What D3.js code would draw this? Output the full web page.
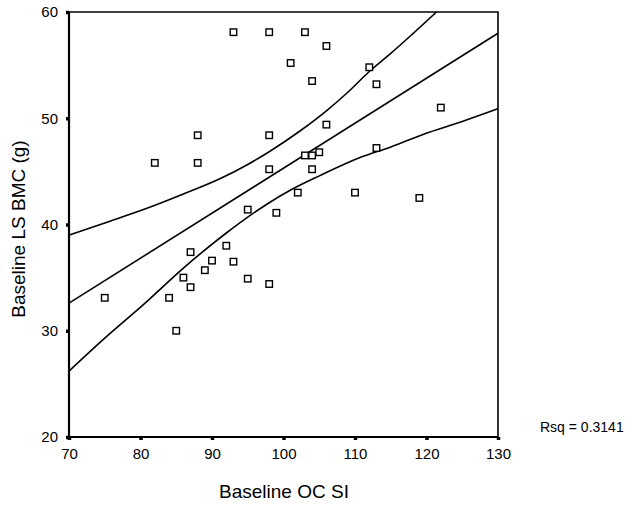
<!DOCTYPE html>
<html>
<head>
<meta charset="utf-8">
<script src="https://cdn.jsdelivr.net/npm/d3@7"></script>
<style>
  html, body { margin: 0; padding: 0; background: #fff; }
  svg { display: block; font-family: "Liberation Sans", Arial, Helvetica, sans-serif; }
</style>
</head>
<body>
<svg id="chart" width="629" height="514"></svg>
<script>
// ---- data ----
const ocSI = [82, 88, 88, 93, 98, 103, 106, 101, 112, 104, 113, 122, 106, 98, 103, 104, 105, 113, 98, 104,
              102, 110, 119, 95, 99, 92, 90, 93, 89, 95, 98, 75, 84, 85, 86, 87, 87];
const lsBMC = [45.8, 48.4, 45.8, 58.1, 58.1, 58.1, 56.8, 55.2, 54.8, 53.5, 53.2, 51.0, 49.4, 48.4, 46.5, 46.5, 46.8, 47.2, 45.2, 45.2,
               43.0, 43.0, 42.5, 41.4, 41.1, 38.0, 36.6, 36.5, 35.7, 34.9, 34.4, 33.1, 33.1, 30.0, 35.0, 37.4, 34.1];

const fitX = [70, 130];
const fitY = [32.6, 58.0];

const upperX = [70, 75, 80.8, 86, 91.1, 95, 98, 102.3, 106, 109, 112, 115, 118, 121.4];
const upperY = [39.0, 40.15, 41.5, 42.87, 44.3, 45.65, 46.85, 48.8, 50.7, 52.45, 54.4, 56.1, 57.9, 60.0];

const lowerX = [70, 75, 80.8, 86, 92, 95, 98, 101, 105.1, 110.7, 115, 119.6, 125, 130];
const lowerY = [26.2, 29.3, 32.7, 35.9, 39.2, 40.7, 42.05, 43.24, 44.6, 46.3, 47.3, 48.5, 49.7, 50.9];

const xTicks = [70, 80, 90, 100, 110, 120, 130];
const yTicks = [20, 30, 40, 50, 60];

const xTitle = "Baseline OC SI";
const yTitle = "Baseline LS BMC (g)";
const rsqLabel = "Rsq = 0.3141";

// ---- layout ----
(function () {
const svg = d3.select("#chart");
const pL = 69, pT = 12, pR = 498, pB = 437;

const x = d3.scaleLinear().domain([70, 130]).range([pL, pR]);
const y = d3.scaleLinear().domain([20, 60]).range([pB, pT]);

// frame (top & right)
svg.append("path")
  .attr("d", `M${pL},${pT}H${pR}V${pB}`)
  .attr("fill", "none").attr("stroke", "#000").attr("stroke-width", 1.6);

// axes
const xAxis = d3.axisBottom(x).tickValues(xTicks).tickSize(3).tickPadding(8).tickFormat(d3.format("d"));
const yAxis = d3.axisLeft(y).tickValues(yTicks).tickSize(3).tickPadding(8).tickFormat(d3.format("d"));

const gx = svg.append("g").attr("transform", `translate(0,${pB})`).call(xAxis);
const gy = svg.append("g").attr("transform", `translate(${pL},0)`).call(yAxis);

[gx, gy].forEach(g => {
  g.select(".domain").attr("stroke", "#000").attr("stroke-width", 2.2);
  g.selectAll(".tick line").attr("stroke", "#000").attr("stroke-width", 3.5);
  g.selectAll(".tick text").attr("fill", "#000").attr("font-size", 15)
    .attr("font-family", "'Liberation Sans', Arial, sans-serif");
});
gy.select(".domain").attr("d", `M0,${pB}V${pT}`);
gx.select(".domain").attr("d", `M${pL},0H${pR}`);

// clip
svg.append("clipPath").attr("id", "plotclip")
  .append("rect").attr("x", pL).attr("y", pT).attr("width", pR - pL).attr("height", pB - pT);

const plot = svg.append("g").attr("clip-path", "url(#plotclip)");

const lineGen = d3.line().x(d => x(d[0])).y(d => y(d[1]));
const curveGen = d3.line().x(d => x(d[0])).y(d => y(d[1])).curve(d3.curveMonotoneX);

plot.append("path")
  .datum(fitX.map((v, i) => [v, fitY[i]]))
  .attr("d", lineGen).attr("fill", "none").attr("stroke", "#000").attr("stroke-width", 1.6);

plot.append("path")
  .datum(upperX.map((v, i) => [v, upperY[i]]))
  .attr("d", curveGen).attr("fill", "none").attr("stroke", "#000").attr("stroke-width", 1.6);

plot.append("path")
  .datum(lowerX.map((v, i) => [v, lowerY[i]]))
  .attr("d", curveGen).attr("fill", "none").attr("stroke", "#000").attr("stroke-width", 1.6);

// points
const s = 6.5;
svg.append("g").selectAll("rect")
  .data(ocSI.map((v, i) => [v, lsBMC[i]]))
  .join("rect")
  .attr("x", d => x(d[0]) - s / 2)
  .attr("y", d => y(d[1]) - s / 2)
  .attr("width", s).attr("height", s)
  .attr("fill", "#fff").attr("stroke", "#000").attr("stroke-width", 1.4);

// titles
svg.append("text")
  .attr("x", 284).attr("y", 498)
  .attr("text-anchor", "middle").attr("font-size", 19).attr("fill", "#000")
  .text(xTitle);

svg.append("text")
  .attr("transform", `translate(25,229) rotate(-90)`)
  .attr("text-anchor", "middle").attr("font-size", 19).attr("fill", "#000")
  .text(yTitle);

svg.append("text")
  .attr("x", 540).attr("y", 432)
  .attr("font-size", 14).attr("fill", "#000")
  .text(rsqLabel);
})();
</script>
</body>
</html>
